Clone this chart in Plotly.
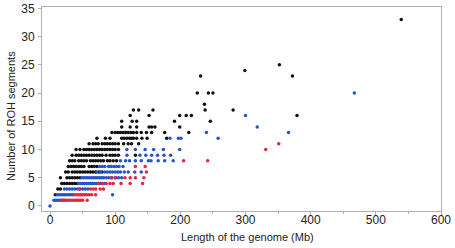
import plotly.graph_objects as go

# Black series (x = genome length Mb, y = number of ROH segments)
black_x = [8,
           12, 16,
           18, 22, 26, 30, 34, 38, 42,
           16, 26, 30, 34, 38, 42, 46,
           24, 28, 34, 38, 42, 46, 50, 54, 58, 62, 66, 70, 75, 80,
           28, 32, 36, 40, 44, 48, 52, 60, 64, 68, 72,
           30, 34, 38, 44, 48, 52, 56, 62, 66, 70, 74, 78, 82, 88, 92, 97, 102,
           34, 40, 44, 48, 52, 56, 60, 64, 68, 72, 76, 80, 86, 92, 96, 100, 105, 131,
           40, 46, 52, 56, 60, 64, 68, 72, 76, 80, 84, 88, 92, 96, 100, 105,
           60, 66, 70, 74, 80, 84, 88, 92, 96, 100, 105, 113, 120, 125, 136,
           72, 85, 92, 110, 114, 118, 122, 125, 128, 133, 141, 149, 179,
           95, 100, 104, 108, 112, 116, 120, 124, 128, 133, 140, 148, 156, 176, 213,
           110, 123, 133, 152, 156, 161, 199,
           110, 126, 133, 191, 246,
           123, 152, 199, 209, 217, 379,
           128, 136, 158, 238, 281,
           237,
           226, 243, 250,
           231, 372,
           299,
           352,
           539]
black_y = [2,
           3, 3,
           4, 4, 4, 4, 4, 4, 4,
           5, 5, 5, 5, 5, 5, 5,
           6, 6, 6, 6, 6, 6, 6, 6, 6, 6, 6, 6, 6, 6,
           7, 7, 7, 7, 7, 7, 7, 7, 7, 7, 7,
           8, 8, 8, 8, 8, 8, 8, 8, 8, 8, 8, 8, 8, 8, 8, 8, 8,
           9, 9, 9, 9, 9, 9, 9, 9, 9, 9, 9, 9, 9, 9, 9, 9, 9, 9,
           10, 10, 10, 10, 10, 10, 10, 10, 10, 10, 10, 10, 10, 10, 10, 10,
           11, 11, 11, 11, 11, 11, 11, 11, 11, 11, 11, 11, 11, 11, 11,
           12, 12, 12, 12, 12, 12, 12, 12, 12, 12, 12, 12, 12,
           13, 13, 13, 13, 13, 13, 13, 13, 13, 13, 13, 13, 13, 13, 13,
           14, 14, 14, 14, 14, 14, 14,
           15, 15, 15, 15, 15,
           16, 16, 16, 16, 16, 16,
           17, 17, 17, 17, 17,
           18,
           20, 20, 20,
           23, 23,
           24,
           25,
           33]

# Blue series
blue_x = [0,
          6, 9, 12, 15, 18, 21,
          11, 14, 17, 20, 23, 26, 29, 32, 35, 96,
          22, 26, 30, 34, 38, 42, 46, 50, 54, 58,
          44, 47, 50, 53, 56, 59, 62, 65, 68, 71, 74, 77, 80, 84,
          49, 52, 55, 58, 61, 64, 67, 70, 73, 76, 79, 82, 86, 90, 95, 100, 105, 110,
          72, 78, 84, 88, 92, 96, 100, 104, 108, 114, 120, 130, 140,
          76, 80, 84, 90, 94, 98, 102, 106, 112,
          108, 116, 122, 131, 140, 151, 155, 166, 176, 189,
          118, 138, 147, 156, 165, 175, 185,
          118, 131, 146, 159, 174, 199,
          184, 197, 201, 258,
          240, 366,
          318,
          300,
          467]
blue_y = [0,
          1, 1, 1, 1, 1, 1,
          2, 2, 2, 2, 2, 2, 2, 2, 2, 2,
          3, 3, 3, 3, 3, 3, 3, 3, 3, 3,
          4, 4, 4, 4, 4, 4, 4, 4, 4, 4, 4, 4, 4, 4,
          5, 5, 5, 5, 5, 5, 5, 5, 5, 5, 5, 5, 5, 5, 5, 5, 5, 5,
          6, 6, 6, 6, 6, 6, 6, 6, 6, 6, 6, 6, 6,
          7, 7, 7, 7, 7, 7, 7, 7, 7,
          8, 8, 8, 8, 8, 8, 8, 8, 8, 8,
          9, 9, 9, 9, 9, 9, 9,
          10, 10, 10, 10, 10, 10,
          12, 12, 12, 12,
          13, 13,
          14,
          16,
          20]

# Red series
red_x = [19, 23, 26, 29, 32, 35, 38, 41, 44, 47, 50, 57,
         38, 41, 44, 47, 50, 53, 56, 60, 64, 70,
         45, 62, 66, 70, 77, 82,
         74, 80, 86, 92, 97, 109, 123, 142,
         94, 101, 115, 123, 131, 144,
         148,
         131, 146,
         205, 242,
         331,
         351]
red_y = [1, 1, 1, 1, 1, 1, 1, 1, 1, 1, 1, 1,
         2, 2, 2, 2, 2, 2, 2, 2, 2, 2,
         3, 3, 3, 3, 3, 3,
         4, 4, 4, 4, 4, 4, 4, 4,
         5, 5, 5, 5, 5, 5,
         6,
         7, 7,
         8, 8,
         10,
         11]

x_ticks = [0, 100, 200, 300, 400, 500, 600]
y_ticks = [0, 5, 10, 15, 20, 25, 30, 35]
x_title = "Length of the genome (Mb)"
y_title = "Number of ROH segments"

fig = go.Figure()
for xs, ys, col in [(black_x, black_y, "#111111"),
                    (blue_x, blue_y, "#2356c8"),
                    (red_x, red_y, "#e8243c")]:
    fig.add_trace(go.Scatter(x=xs, y=ys, mode="markers",
                             marker=dict(color=col, size=3.5, line=dict(width=0)),
                             showlegend=False, cliponaxis=False))

font = dict(family="Liberation Sans, Arial, sans-serif", size=12, color="#222222")
fig.update_layout(
    width=455, height=248,
    margin=dict(l=42, r=14, t=7, b=37, autoexpand=False),
    paper_bgcolor="white", plot_bgcolor="white",
    font=font,
)
fig.update_xaxes(range=[-12.3, 600], tickvals=x_ticks, showgrid=False, zeroline=False,
                 automargin=False, ticklabelstandoff=-5,
                 showline=True, mirror=True, linecolor="#b0b0b0", linewidth=1,
                 ticks="outside", ticklen=3, tickcolor="#b0b0b0",
                 minor=dict(dtick=50, ticks="outside", ticklen=2, tickcolor="#b0b0b0"))
fig.update_yaxes(range=[-0.89, 35.23], tickvals=y_ticks, showgrid=False, zeroline=False,
                 automargin=False, ticklabelstandoff=1,
                 showline=True, mirror=True, linecolor="#b0b0b0", linewidth=1,
                 ticks="outside", ticklen=3, tickcolor="#b0b0b0")

fig.add_annotation(text=x_title, xref="paper", yref="paper", x=0.514, y=-0.127,
                   xanchor="center", yanchor="middle", showarrow=False,
                   font=dict(size=11))
fig.add_annotation(text=y_title, xref="paper", yref="paper", x=-0.0777, y=0.466,
                   xanchor="center", yanchor="middle", showarrow=False, textangle=-90,
                   font=dict(size=11))

fig.write_html("out.html", config={"displayModeBar": False},
               post_script="document.body.style.margin='0';document.body.style.overflow='hidden';")
